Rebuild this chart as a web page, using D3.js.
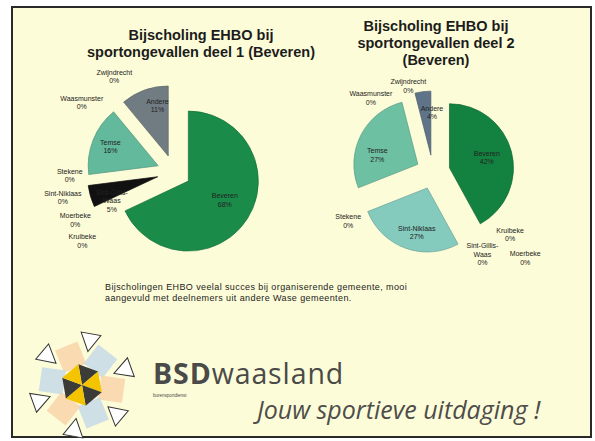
<!DOCTYPE html>
<html>
<head>
<meta charset="utf-8">
<script src="https://cdnjs.cloudflare.com/ajax/libs/d3/7.8.5/d3.min.js"></script>
<style>
  body { margin: 0; background: #fff; }
  svg { display: block; font-family: "Liberation Sans", Arial, sans-serif; }
</style>
</head>
<body>
<div id="myDiv"></div>
<script>
//Gemeenten, same order in both charts
var gemeenten = ["Beveren", "Kruibeke", "Moerbeke", "Sint-Gillis-Waas", "Sint-Niklaas", "Stekene", "Temse", "Waasmunster", "Zwijndrecht", "Andere"];
//Percentage deelnemers per gemeente
var deel1 = [68, 0, 0, 5, 0, 0, 16, 0, 0, 11];
var deel2 = [42, 0, 0, 0, 27, 0, 27, 0, 0, 4];
var titel1 = ["Bijscholing EHBO bij", "sportongevallen deel 1 (Beveren)"];
var titel2 = ["Bijscholing EHBO bij", "sportongevallen deel 2", "(Beveren)"];
var tekst = ["Bijscholingen EHBO veelal succes bij organiserende gemeente, mooi",
             "aangevuld met deelnemers uit andere Wase gemeenten."];

//Slice colours
var kleuren1 = ["#1a8b49", "#9bd3c0", "#b7dccf", "#111111", "#80c8b8", "#a8d8c8", "#63b99b", "#c0c0c0", "#8fa0a8", "#717c82"];
var kleuren2 = ["#13813f", "#9bd3c0", "#b7dccf", "#111111", "#84cabd", "#a8d8c8", "#6ec0a3", "#c0c0c0", "#8fa0a8", "#5f7489"];

//Label placement: angle (degrees, clockwise from top) and distance (x radius)
var labelHoek1 = [119, 233, 244, 245, 257, 268, 292, 307, 328, 346];
var labelAfstand1 = [0.83, 1.64, 1.57, 0.98, 1.63, 1.49, 0.98, 1.65, 1.61, 0.98];
var labelHoek2 = [75, 129, 133, 149, 195, 240, 287, 320, 344, 359];
var labelAfstand2 = [0.87, 1.55, 1.97, 1.5, 0.98, 1.53, 0.91, 1.51, 1.4, 0.93];

var w = 595;
var h = 441;

var svg = d3.select("#myDiv")
    .append("svg")
    .attr("width", w)
    .attr("height", h);

//Page frame
svg.append("rect")
  .attr("x", 12).attr("y", 7)
  .attr("width", 579).attr("height", 430)
  .attr("fill", "#fdfcd8")
  .attr("stroke", "#2a2a2a")
  .attr("stroke-width", 2);

//Draw a title block, centered
function drawTitle(lines, x, y, lh) {
  svg.append("text")
    .attr("text-anchor", "middle")
    .attr("font-size", 14.5)
    .attr("font-weight", "bold")
    .attr("fill", "#1c1c1c")
    .selectAll("tspan")
    .data(lines)
    .enter()
    .append("tspan")
    .attr("x", x)
    .attr("y", function(d, i) { return y + i * lh; })
    .text(function(d) { return d; });
}

//Draw one exploded pie with its labels
function drawPie(values, kleuren, hoek, afstand, cx, cy, r, explode) {
  var pie = d3.pie().sort(null).value(function(d) { return d; });
  var arcs = pie(values);
  var arc = d3.arc().innerRadius(0).outerRadius(r);

  var g = svg.append("g").attr("transform", "translate(" + cx + "," + cy + ")");

  g.selectAll("path")
   .data(arcs.filter(function(d) { return d.value > 0; }))
   .enter()
   .append("path")
   .attr("transform", function(d) {
      var m = (d.startAngle + d.endAngle) / 2;
      return "translate(" + (Math.sin(m) * explode) + "," + (-Math.cos(m) * explode) + ")";
   })
   .attr("d", arc)
   .attr("fill", function(d) { return kleuren[d.index]; })
   .attr("stroke", function(d) { return d3.color(kleuren[d.index]).darker(0.6); })
   .attr("stroke-width", 0.7);

  var lh = 8.5;
  arcs.forEach(function(d, i) {
    var a = hoek[i] * Math.PI / 180;
    var lx = Math.sin(a) * afstand[i] * r;
    var ly = -Math.cos(a) * afstand[i] * r;
    var naam = gemeenten[i] == "Sint-Gillis-Waas" ? ["Sint-Gillis-", "Waas"] : [gemeenten[i]];
    var lines = naam.concat([values[i] + "%"]);
    g.append("text")
      .attr("text-anchor", "middle")
      .attr("font-size", 7)
      .attr("fill", "#222")
      .selectAll("tspan")
      .data(lines)
      .enter()
      .append("tspan")
      .attr("x", lx)
      .attr("y", function(t, j) { return ly - (lines.length - 1) * lh / 2 + j * lh + 2.5; })
      .text(function(t) { return t; });
  });
}

drawTitle(titel1, 201, 40, 16.5);
drawTitle(titel2, 436, 31, 17);

drawPie(deel1, kleuren1, labelHoek1, labelAfstand1, 174, 172, 70, 17);
drawPie(deel2, kleuren2, labelHoek2, labelAfstand2, 433, 172, 64, 17);

//Comment text
svg.append("text")
  .attr("font-size", 9)
  .attr("letter-spacing", 0.4)
  .attr("fill", "#222")
  .selectAll("tspan")
  .data(tekst)
  .enter()
  .append("tspan")
  .attr("x", 105)
  .attr("y", function(d, i) { return 290 + i * 10.5; })
  .text(function(d) { return d; });

//Logo star
var logo = svg.append("g").attr("transform", "translate(82,385)");
var k, a;
for (k = 0; k < 6; k++) {
  a = -22 + 60 * k;
  logo.append("rect")
    .attr("x", -12).attr("y", -12)
    .attr("width", 24).attr("height", 24)
    .attr("fill", k % 2 == 0 ? "#f9d3aa" : "#c6dbe7")
    .attr("opacity", 0.85)
    .attr("transform", "rotate(" + a + ") translate(0,-30)");
}
for (k = 0; k < 6; k++) {
  var a0 = (60 * k - 10) * Math.PI / 180;
  var a1 = (60 * k + 50) * Math.PI / 180;
  logo.append("path")
    .attr("d", "M0,0L" + (Math.sin(a0) * 21) + "," + (-Math.cos(a0) * 21) +
               "L" + (Math.sin(a1) * 21) + "," + (-Math.cos(a1) * 21) + "Z")
    .attr("fill", k % 2 == 0 ? "#3b3b37" : "#f5c400");
}
for (k = 0; k < 6; k++) {
  a = 10 + 60 * k;
  logo.append("path")
    .attr("d", "M0,-11L10,7L-10,7Z")
    .attr("fill", "#fff")
    .attr("stroke", "#333")
    .attr("stroke-width", 1)
    .attr("transform", "rotate(" + a + ") translate(0,-45) rotate(180)");
}

//Logo text
var bsd = svg.append("text")
  .attr("x", 153).attr("y", 384)
  .attr("font-family", "'Open Sans', sans-serif")
  .attr("font-size", 28.5)
  .attr("letter-spacing", 0.9)
  .attr("fill", "#4a4a48");
bsd.append("tspan").attr("font-weight", "bold").text("BSD");
bsd.append("tspan").text("waasland");

svg.append("text")
  .attr("x", 153).attr("y", 397)
  .attr("font-size", 4.5)
  .attr("fill", "#4a4a48")
  .text("burensportdienst");

svg.append("text")
  .attr("x", 257).attr("y", 419)
  .attr("font-family", "'Open Sans', sans-serif")
  .attr("font-style", "italic")
  .attr("font-size", 25)
  .attr("fill", "#4d4d4b")
  .text("Jouw sportieve uitdaging !");
</script>
</body>
</html>
